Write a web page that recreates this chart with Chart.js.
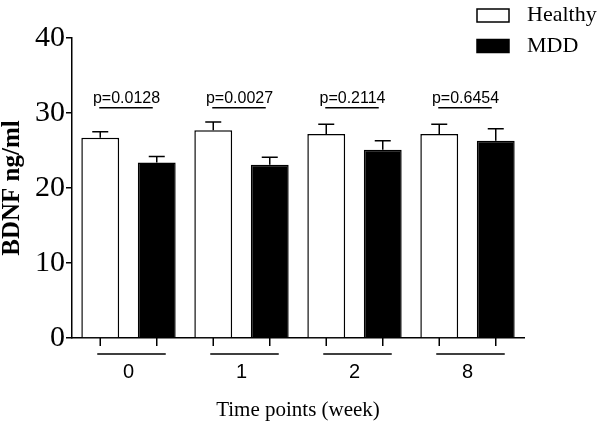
<!DOCTYPE html>
<html>
<head>
<meta charset="utf-8">
<script src="https://cdn.jsdelivr.net/npm/chart.js@4"></script>
<style>
  body { margin: 0; background: #fff; }
  canvas { display: block; }
</style>
</head>
<body>
<canvas id="bdnfChart" width="609" height="426"></canvas>
<script>
// BDNF levels, healthy vs MDD, per time point

var weeks = ["0", "1", "2", "8"];
var healthyMean = [26.7, 27.7, 27.2, 27.2];
var healthyErr = [0.8, 1.1, 1.3, 1.3];
var mddMean = [23.4, 23.1, 25.1, 26.3];
var mddErr = [0.8, 1.0, 1.2, 1.6];
var pValues = ["p=0.0128", "p=0.0027", "p=0.2114", "p=0.6454"];
var pLineLevel = 30.7; // where the p-value lines sit on the y scale

var serif = "'Liberation Serif', 'Times New Roman', serif";
var sans = "'Liberation Sans', Arial, sans-serif";

// upward error bars (mean + SEM)
var errorBars = {
  id: "errorBars",
  afterDatasetsDraw: function (chart) {
    var ctx = chart.ctx;
    var y = chart.scales.y;
    ctx.save();
    ctx.strokeStyle = "#000";
    ctx.lineWidth = 1.5;
    chart.data.datasets.forEach(function (ds, i) {
      var meta = chart.getDatasetMeta(i);
      meta.data.forEach(function (bar, j) {
        var top = y.getPixelForValue(ds.data[j] + ds.errors[j]);
        ctx.beginPath();
        ctx.moveTo(bar.x, bar.y);
        ctx.lineTo(bar.x, top);
        ctx.moveTo(bar.x - 8, top);
        ctx.lineTo(bar.x + 8, top);
        ctx.stroke();
      });
    });
    ctx.restore();
  }
};

// Prism style grouped x axis + p-value lines
var groupMarks = {
  id: "groupMarks",
  afterDraw: function (chart) {
    var ctx = chart.ctx;
    var area = chart.chartArea;
    var y = chart.scales.y;
    var m0 = chart.getDatasetMeta(0);
    var m1 = chart.getDatasetMeta(1);
    var pY = y.getPixelForValue(pLineLevel);
    ctx.save();
    ctx.strokeStyle = "#000";
    ctx.fillStyle = "#000";
    ctx.lineWidth = 1.5;
    weeks.forEach(function (w, j) {
      var x0 = m0.data[j].x;
      var x1 = m1.data[j].x;
      ctx.beginPath();
      ctx.moveTo(x0, area.bottom);
      ctx.lineTo(x0, area.bottom + 8);
      ctx.moveTo(x1, area.bottom);
      ctx.lineTo(x1, area.bottom + 8);
      ctx.moveTo(x0 - 3, area.bottom + 16);
      ctx.lineTo(x1 + 9, area.bottom + 16);
      ctx.moveTo(x0 - 1, pY);
      ctx.lineTo(x1 - 4, pY);
      ctx.stroke();

      ctx.font = "16px " + sans;
      ctx.textAlign = "center";
      ctx.textBaseline = "alphabetic";
      ctx.fillText(pValues[j], (x0 + x1) / 2 - 2, pY - 5);
    });

    // legend
    ctx.font = "22px " + serif;
    ctx.textAlign = "left";
    ctx.textBaseline = "middle";
    chart.data.datasets.forEach(function (ds, i) {
      var by = 9 + i * 30.5;
      ctx.fillStyle = ds.backgroundColor;
      ctx.fillRect(477, by, 32, 13);
      ctx.strokeRect(477, by, 32, 13);
      ctx.fillStyle = "#000";
      ctx.fillText(ds.label, 527, by + 6.5);
    });
    ctx.restore();
  }
};

document.addEventListener("DOMContentLoaded", function () {
  var ctx = document.getElementById("bdnfChart").getContext("2d");

  var chartData = {
    labels: weeks,
    datasets: [{
      label: "Healthy",
      data: healthyMean,
      errors: healthyErr,
      backgroundColor: "#ffffff",
      borderColor: "#000000",
      borderWidth: 1.5
    }, {
      label: "MDD",
      data: mddMean,
      errors: mddErr,
      backgroundColor: "#000000",
      borderColor: "#000000",
      borderWidth: 1.5
    }]
  };

  var options = {
    responsive: false,
    animation: false,
    layout: { padding: { top: 38, right: 85, left: 0, bottom: 0 } },
    datasets: {
      bar: { categoryPercentage: 1.0, barPercentage: 0.67 }
    },
    plugins: {
      legend: { display: false },
      tooltip: { enabled: false }
    },
    scales: {
      x: {
        grid: { display: false, drawTicks: false },
        border: { display: true, color: "#000", width: 1.5 },
        ticks: {
          padding: 22,
          color: "#000",
          font: { family: sans, size: 20 }
        },
        title: {
          display: true,
          text: "Time points (week)",
          color: "#000",
          font: { family: serif, size: 21 },
          padding: { top: 0, bottom: 3 }
        },
        afterFit: function (scale) { scale.height = 88; }
      },
      y: {
        min: 0,
        max: 40,
        grid: {
          drawOnChartArea: false,
          drawTicks: true,
          tickLength: 6,
          color: "#000",
          lineWidth: 1.5
        },
        border: { display: true, color: "#000", width: 1.5 },
        ticks: {
          stepSize: 10,
          padding: 1,
          color: "#000",
          font: { family: serif, size: 30 }
        },
        title: {
          display: true,
          text: "BDNF ng/ml",
          color: "#000",
          font: { family: serif, size: 25, weight: "bold", lineHeight: 1 },
          padding: { top: 0, bottom: 0 }
        },
        afterFit: function (scale) { scale.width = 72; }
      }
    }
  };

  new Chart(ctx, {
    type: "bar",
    data: chartData,
    options: options,
    plugins: [errorBars, groupMarks]
  });
});
</script>
</body>
</html>
